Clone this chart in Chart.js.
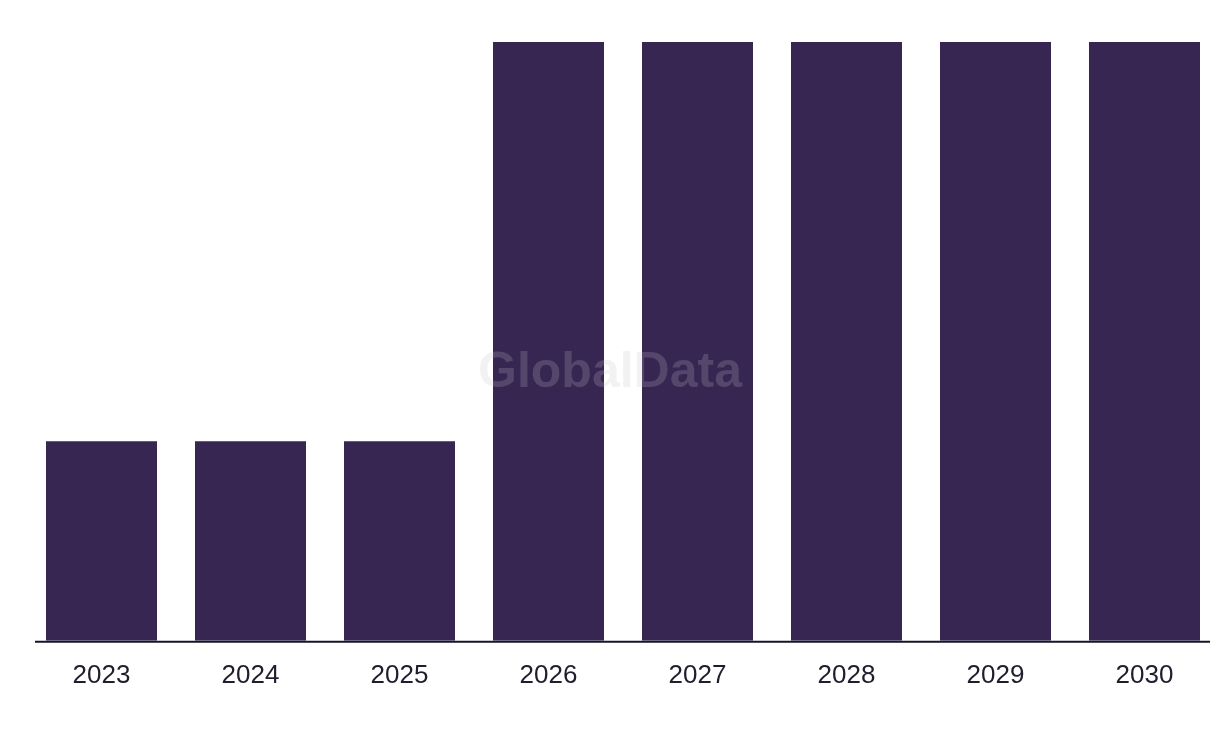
<!DOCTYPE html>
<html>
<head>
<meta charset="utf-8">
<script src="https://cdn.jsdelivr.net/npm/chart.js@4/dist/chart.umd.min.js"></script>
<style>
  html, body { margin: 0; padding: 0; background: #ffffff; }
  #wrap { width: 1220px; height: 738px; position: relative; }
</style>
</head>
<body>
<div id="wrap"><canvas id="chart-years"></canvas></div>
<script>
(function () {
    "use strict";

    var years = ["2023", "2024", "2025", "2026", "2027", "2028", "2029", "2030"];
    var values = [1, 1, 1, 3, 3, 3, 3, 3];

    var BAR_COLOR = "#372552";
    var TEXT_COLOR = "#1f1d2e";

    // baseline under the bars, a little shorter than the plot area
    var baseline = {
        id: "baseline",
        afterDatasetsDraw: function (chart) {
            var ctx = chart.ctx;
            var area = chart.chartArea;
            ctx.save();
            ctx.strokeStyle = "#16142a";
            ctx.lineWidth = 2;
            ctx.beginPath();
            ctx.moveTo(area.left + 8, area.bottom + 1);
            ctx.lineTo(area.right - 9, area.bottom + 1);
            ctx.stroke();
            ctx.restore();
        }
    };

    var watermark = {
        id: "watermark",
        afterDatasetsDraw: function (chart) {
            var ctx = chart.ctx;
            ctx.save();
            ctx.font = "bold 50px 'Liberation Sans', Arial, sans-serif";
            ctx.fillStyle = "rgba(196, 196, 200, 0.22)";
            ctx.textAlign = "center";
            ctx.textBaseline = "middle";
            ctx.fillText("GlobalData", chart.width / 2, 373);
            ctx.restore();
        }
    };

    new Chart(document.getElementById("chart-years"), {
        type: "bar",
        data: {
            labels: years,
            datasets: [{
                data: values,
                backgroundColor: BAR_COLOR,
                borderWidth: 0,
                categoryPercentage: 1,
                barPercentage: 0.745
            }]
        },
        options: {
            responsive: true,
            maintainAspectRatio: false,
            animation: false,
            layout: { padding: { left: 27, right: 1, top: 42, bottom: 36 } },
            plugins: {
                legend: { display: false },
                tooltip: { enabled: false }
            },
            scales: {
                x: {
                    grid: { display: false },
                    border: { display: false },
                    ticks: {
                        color: TEXT_COLOR,
                        padding: 11,
                        maxRotation: 0,
                        font: { family: "'Liberation Sans', Arial, sans-serif", size: 26 }
                    }
                },
                y: {
                    display: false,
                    min: 0,
                    max: 3
                }
            }
        },
        plugins: [baseline, watermark]
    });
})();
</script>
</body>
</html>
